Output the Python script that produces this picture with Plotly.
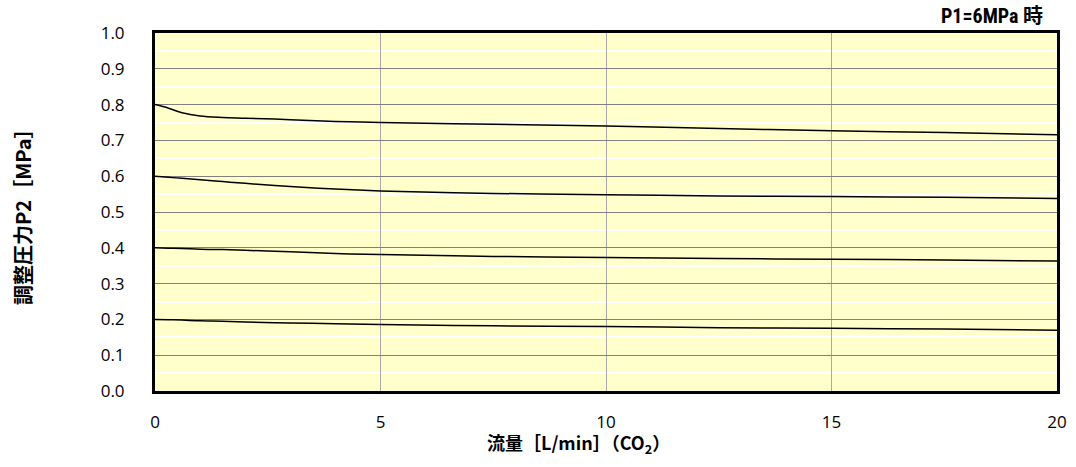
import plotly.graph_objects as go

flow = [0, 0.3, 0.6, 1, 1.5, 2, 3, 4, 5, 7.5, 10, 12.5, 15, 17.5, 20]
p2_08 = [0.800, 0.790, 0.777, 0.768, 0.764, 0.762, 0.758, 0.753, 0.750, 0.745, 0.740, 0.733, 0.727, 0.722, 0.716]
p2_06 = [0.600, 0.597, 0.594, 0.590, 0.585, 0.580, 0.571, 0.564, 0.559, 0.552, 0.548, 0.545, 0.543, 0.541, 0.538]
p2_04 = [0.400, 0.399, 0.398, 0.396, 0.395, 0.393, 0.389, 0.384, 0.381, 0.376, 0.373, 0.370, 0.368, 0.366, 0.363]
p2_02 = [0.200, 0.199, 0.198, 0.196, 0.195, 0.193, 0.190, 0.188, 0.186, 0.182, 0.180, 0.177, 0.175, 0.173, 0.170]
minor_grid = [0.05, 0.15, 0.25, 0.35, 0.45, 0.55, 0.65, 0.75, 0.85, 0.95]

fig = go.Figure()
for ys in (p2_08, p2_06, p2_04, p2_02):
    fig.add_trace(go.Scatter(x=flow, y=ys, mode="lines", line=dict(color="black", width=1.5, shape="spline"),
                             showlegend=False, hoverinfo="skip"))

font_main = "Open Sans, Noto Sans CJK JP, sans-serif"
fig.update_layout(
    width=1076, height=467,
    margin=dict(l=155, r=9, t=33, b=76),
    paper_bgcolor="white", plot_bgcolor="#FFFFCC",
    font=dict(family=font_main, color="black", size=17),
    xaxis=dict(range=[0, 20], dtick=5, tick0=0, showgrid=True, gridcolor="#A8A8A8", gridwidth=1,
               showline=True, linecolor="black", linewidth=3, mirror=True, zeroline=False,
               ticks="", tickfont=dict(size=17), ticklabelstandoff=14),
    yaxis=dict(range=[0, 1.0], dtick=0.1, tick0=0, tickformat=".1f", showgrid=True, gridcolor="#808080", gridwidth=1,
               minor=dict(tickmode="array", tickvals=minor_grid, showgrid=True, gridcolor="white", gridwidth=1.5, ticks=""),
               showline=True, linecolor="black", linewidth=3, mirror=True, zeroline=False,
               ticks="", tickfont=dict(size=17), ticklabelstandoff=24),
)
cjk = "Noto Sans CJK JP, sans-serif"
fig.add_annotation(text="<b>流量［L/min］（CO<sub>2</sub>）</b>", xref="paper", yref="paper",
                   x=(580 - 155) / 905, y=0, yshift=-52, xanchor="center", yanchor="middle",
                   showarrow=False, font=dict(size=18, family=cjk))
fig.add_annotation(text="<b>調整圧力P2［MPa］</b>", xref="paper", yref="paper",
                   x=0, xshift=-133, y=0.5, xanchor="center", yanchor="middle", textangle=-90,
                   showarrow=False, font=dict(size=20, family=cjk))
fig.add_annotation(text="<b>P1=6MPa 時</b>", xref="paper", yref="paper", x=0.987, y=1.0, yshift=3,
                   xanchor="right", yanchor="bottom", showarrow=False,
                   font=dict(size=20, family="Liberation Sans Narrow, Roboto Condensed, Noto Sans CJK JP, sans-serif"))
fig.write_html("out.html", config={"displayModeBar": False},
               post_script="document.body.style.margin='0px';document.body.style.overflow='hidden';")
